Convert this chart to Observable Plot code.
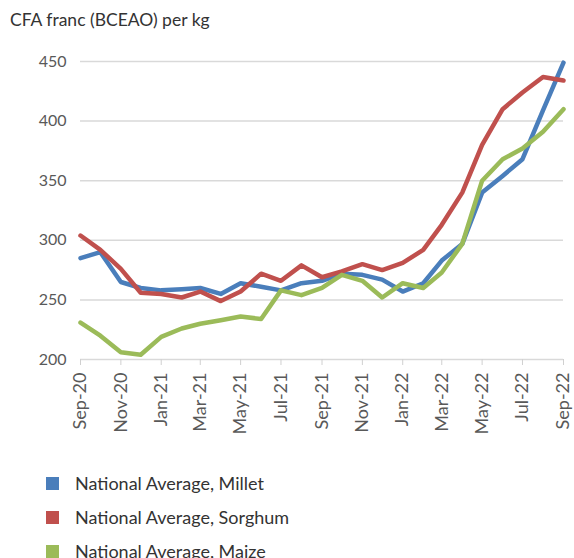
<!DOCTYPE html>
<html><head><meta charset="utf-8">
<script src="https://cdn.jsdelivr.net/npm/d3@7"></script>
<script src="https://cdn.jsdelivr.net/npm/@observablehq/plot@0.6"></script>
<style>
body{margin:0;background:#fff;font-family:Lato,"Open Sans",sans-serif;}
#title{height:40px;padding-left:10px;font-size:17.5px;color:#333;line-height:40px;}
#legend{padding-top:26px;}
.row{height:34px;display:flex;align-items:center;font-size:18px;color:#333;}
.sw{width:13px;height:13px;margin-left:46px;margin-right:16px;flex:none;}
</style></head><body>
<div id="title">CFA franc (BCEAO) per kg</div>
<div id="chart"></div>
<div id="legend"></div>
<script>
const months = ["2020-09","2020-10","2020-11","2020-12","2021-01","2021-02","2021-03","2021-04","2021-05","2021-06","2021-07","2021-08","2021-09","2021-10","2021-11","2021-12","2022-01","2022-02","2022-03","2022-04","2022-05","2022-06","2022-07","2022-08","2022-09"];
const millet  = [285,290,265,260,258,259,260,255,264,261,258,264,266,272,271,267,257,264,283,297,340,354,368,409,449];
const sorghum = [304,292,276,256,255,252,257,249,257,272,266,279,269,274,280,275,281,292,313,340,380,410,424,437,434];
const maize   = [231,220,206,204,219,226,230,233,236,234,258,254,260,271,266,252,264,260,273,297,350,368,377,391,410];
const tickMonths = ["2020-09","2020-11","2021-01","2021-03","2021-05","2021-07","2021-09","2021-11","2022-01","2022-03","2022-05","2022-07","2022-09"];
const yTicks = [200,250,300,350,400,450];
const seriesNames = ["National Average, Millet","National Average, Sorghum","National Average, Maize"];
const seriesColors = ["#4a7ebb","#c0504d","#9bbb59"];

const parse = d3.utcParse("%Y-%m");
const seriesValues = [millet, sorghum, maize];
const data = [];
seriesNames.forEach((name, s) => months.forEach((m, i) => data.push({date: parse(m), value: seriesValues[s][i], series: name})));

const chart = Plot.plot({
  width: 574, height: 400,
  marginTop: 21, marginBottom: 81, marginLeft: 80, marginRight: 11,
  style: {fontFamily: "Lato, 'Open Sans', sans-serif", background: "#fff"},
  x: {type: "utc", domain: [parse(months[0]), parse(months[months.length-1])], label: null},
  y: {domain: [200, 450], label: null},
  color: {domain: seriesNames, range: seriesColors},
  marks: [
    Plot.ruleY(yTicks, {stroke: "#d9d9d9", strokeWidth: 1.5}),
    Plot.axisY({ticks: yTicks, tickSize: 0, tickPadding: 14, fontSize: 16, color: "#595959", label: null}),
    Plot.axisX({ticks: tickMonths.map(parse), tickFormat: d3.utcFormat("%b-%y"), tickRotate: -90, tickSize: 6, tickPadding: 7, fontSize: 18, color: "#595959", stroke: "#d0d0d0", label: null}),
    Plot.lineY(data, {x: "date", y: "value", z: "series", stroke: "series", strokeWidth: 4.5, strokeLinejoin: "round"})
  ]
});
document.getElementById("chart").appendChild(chart);

const legend = document.getElementById("legend");
seriesNames.forEach((n, i) => {
  const r = document.createElement("div"); r.className = "row";
  const sw = document.createElement("div"); sw.className = "sw"; sw.style.background = seriesColors[i];
  const t = document.createElement("span"); t.textContent = n;
  r.appendChild(sw); r.appendChild(t); legend.appendChild(r);
});
</script>
</body></html>
